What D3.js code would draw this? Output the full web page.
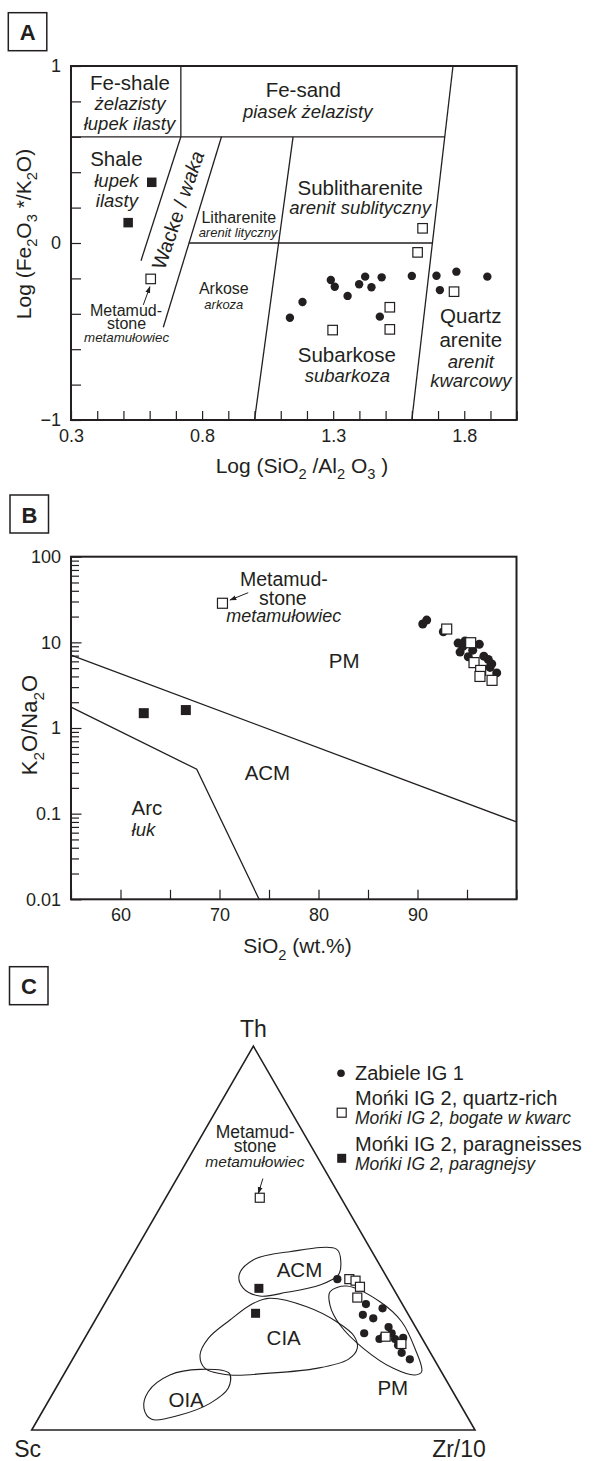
<!DOCTYPE html>
<html>
<head>
<meta charset="utf-8">
<script src="https://cdn.jsdelivr.net/npm/d3@7"></script>
<style>
body { margin: 0; background: #fff; }
text { font-family: 'Liberation Sans', Arial, sans-serif; fill: #231f20; white-space: pre; }
</style>
</head>
<body>
<script>
var width = 598, height = 1461, ink = '#231f20';

// ---------- A: log(SiO2/Al2O3) vs log(Fe2O3*/K2O) ----------
const aZabiele = [[1.135,-0.422],[1.183,-0.333],[1.291,-0.209],[1.306,-0.247],[1.355,-0.299],
  [1.399,-0.233],[1.422,-0.190],[1.446,-0.250],[1.485,-0.194],[1.478,-0.416],[1.600,-0.186],
  [1.694,-0.185],[1.707,-0.266],[1.770,-0.162],[1.888,-0.190]];
const aQuartzRich = [[1.641,0.083],[1.622,-0.053],[1.761,-0.275],[1.516,-0.363],[1.298,-0.492],[1.516,-0.488],[0.604,-0.203]];
const aParagneiss = [[0.608,0.343],[0.518,0.115]];
// field boundaries (Herron 1988)
const aBounds = [
  [[0.3,0.6],[1.726,0.6]],
  [[0.719,1],[0.719,0.6]],
  [[0.719,0.6],[0.567,-0.10]],
  [[0.874,0.6],[0.652,-0.476]],
  [[1.147,0.6],[1.0,-1]],
  [[1.757,1],[1.6,-1]],
  [[0.750,0],[1.678,0]]
];
const aXLabels = [0.3, 0.8, 1.3, 1.8];
const aYLabels = [-1, 0, 1];

// ---------- B: SiO2 vs K2O/Na2O ----------
const bZabiele = [[90.53,16.4],[90.93,18.2],[92.61,13.3],[94.80,10.4],[94.57,8.9],[95.58,8.1],
  [96.24,9.5],[95.13,6.8],[97.15,6.3],[97.32,5.1],[98.0,4.4],[94.1,9.8],[96.7,6.9],[97.5,5.6],[94.3,7.7]];
const bQuartzRich = [[92.95,14.3],[95.37,9.9],[95.71,5.8],[96.38,4.7],[96.31,4.0],[97.53,3.6],[70.3,28.6]];
const bParagneiss = [[62.35,1.49],[66.6,1.62]];
// Roser & Korsch (1986) boundaries
const bBounds = [
  [[55,7.1],[100,0.08]],
  [[55,1.75],[67.7,0.33],[74,0.01]]
];
const bXLabels = [60, 70, 80, 90];
const bYLabels = [0.01, 0.1, 1, 10, 100];

// ---------- C: Th - Sc - Zr/10 (fractions: th, sc, zr) ----------
const cZabiele = [[0.393,0.114,0.493],[0.328,0.082,0.590],[0.317,0.050,0.633],[0.300,0.103,0.597],
  [0.291,0.084,0.625],[0.268,0.061,0.671],[0.252,0.124,0.624],[0.237,0.097,0.666],[0.237,0.062,0.701],
  [0.240,0.042,0.718],[0.201,0.065,0.734],[0.184,0.055,0.761],[0.252,0.062,0.686],[0.221,0.063,0.716],
  [0.243,0.085,0.672]];
const cQuartzRich = [[0.393,0.087,0.520],[0.389,0.075,0.536],[0.373,0.073,0.554],[0.345,0.093,0.562],
  [0.243,0.080,0.677],[0.224,0.054,0.722],[0.605,0.183,0.212]];
const cParagneiss = [[0.369,0.303,0.328],[0.304,0.343,0.353]];
// tectonic fields (Bhatia & Crook 1986), outlines as [th, zr]
const cFields = {
  ACM: [[0.404,0.266],[0.443,0.278],[0.4645,0.350],[0.4706,0.453],[0.4385,0.478],[0.404,0.4897],
        [0.3777,0.4615],[0.3586,0.396],[0.349,0.340],[0.369,0.293]],
  CIA: [[0.343,0.366],[0.321,0.460],[0.282,0.547],[0.245,0.6046],[0.2127,0.628],[0.184,0.622],
        [0.1606,0.5626],[0.1476,0.456],[0.1433,0.3756],[0.1606,0.3106],[0.1954,0.282],[0.2388,0.279],
        [0.2865,0.304],[0.330,0.335]],
  OIA: [[0.0998,0.213],[0.1433,0.240],[0.158,0.3007],[0.1476,0.372],[0.1085,0.389],[0.0694,0.3675],
        [0.039,0.315],[0.0278,0.257],[0.0564,0.225]],
  PM:  [[0.360,0.493],[0.375,0.523],[0.334,0.6186],[0.282,0.6937],[0.2128,0.758],[0.152,0.8037],
        [0.1433,0.793],[0.1606,0.7354],[0.2128,0.6416],[0.2735,0.5588],[0.3256,0.510]]
};

const legendItems = [
  ['circle', 'Zabiele IG 1', null],
  ['open', 'Mońki IG 2, quartz-rich', 'Mońki IG 2, bogate w kwarc'],
  ['filled', 'Mońki IG 2, paragneisses', 'Mońki IG 2, paragnejsy']
];

// ---------- drawing ----------
var svg = d3.select('body').append('svg')
  .attr('width', width).attr('height', height);

svg.append('defs').append('marker')
  .attr('id', 'ah').attr('viewBox', '0 0 10 10')
  .attr('refX', 9).attr('refY', 5)
  .attr('markerWidth', 7).attr('markerHeight', 7)
  .attr('orient', 'auto')
  .append('path').attr('d', 'M0,1.5L10,5L0,8.5z').attr('fill', ink);

function label(g, x, y, str, size, italic, anchor) {
  return g.append('text')
    .attr('x', x).attr('y', y)
    .attr('font-size', size)
    .attr('font-style', italic ? 'italic' : null)
    .attr('text-anchor', anchor || 'middle')
    .text(str);
}

// text with subscripts: parts are strings or [sub]
function rich(g, parts, size) {
  var t = g.append('text').attr('font-size', size).attr('text-anchor', 'middle');
  var low = false;
  parts.forEach(p => {
    var sub = Array.isArray(p);
    var ts = t.append('tspan').text(sub ? p[0] : p);
    if (sub) { ts.attr('font-size', size * 0.7).attr('dy', size * 0.3); low = true; }
    else if (low) { ts.attr('dy', -size * 0.3); low = false; }
  });
  return t;
}

function panelTag(x, y, letter) {
  svg.append('rect').attr('x', x).attr('y', y).attr('width', 38.5).attr('height', 38)
    .attr('fill', 'none').attr('stroke', ink).attr('stroke-width', 1.5);
  svg.append('text').attr('x', x + 19.5).attr('y', y + 27.5)
    .attr('text-anchor', 'middle').attr('font-size', 22).attr('font-weight', 'bold')
    .text(letter);
}

function styleAxis(g) {
  g.attr('font-family', null).attr('font-size', 18);
  g.select('.domain').remove();
  g.selectAll('line').attr('stroke', ink).attr('stroke-width', 1.2);
  g.selectAll('text').attr('fill', ink);
}

function circles(g, data, px, r) {
  g.append('g').selectAll('circle').data(data).enter().append('circle')
    .attr('cx', d => px(d)[0]).attr('cy', d => px(d)[1])
    .attr('r', r).attr('fill', ink);
}

function squares(g, data, px, s, filled) {
  g.append('g').selectAll('rect').data(data).enter().append('rect')
    .attr('x', d => px(d)[0] - s / 2).attr('y', d => px(d)[1] - s / 2)
    .attr('width', s).attr('height', s)
    .attr('fill', filled ? ink : '#fff')
    .attr('stroke', ink).attr('stroke-width', filled ? 0 : 1.2);
}

// ===== Panel A =====
panelTag(8.3, 12.7, 'A');
const xA = d3.scaleLinear().domain([0.3, 2.0]).range([71, 516.7]);
const yA = d3.scaleLinear().domain([-1, 1]).range([420, 66]);
var gA = svg.append('g');
const near = (arr, d) => arr.some(v => Math.abs(v - d) < 1e-6);

gA.append('g').attr('transform', 'translate(0,420)')
  .call(d3.axisBottom(xA).tickValues(d3.range(0.3, 2.0001, 0.1))
    .tickSizeInner(-9).tickSizeOuter(0).tickPadding(9)
    .tickFormat(d => near(aXLabels, d) ? d3.format('.1f')(d) : ''))
  .call(styleAxis);
gA.append('g').attr('transform', 'translate(71,0)')
  .call(d3.axisLeft(yA).tickValues(d3.range(-1, 1.0001, 0.2))
    .tickSizeInner(-10).tickSizeOuter(0).tickPadding(10)
    .tickFormat(d => near(aYLabels, d) ? d3.format('d')(Math.round(d)) : ''))
  .call(styleAxis);

var lineA = d3.line().x(d => xA(d[0])).y(d => yA(d[1]));
gA.selectAll('path.bound').data(aBounds).enter().append('path')
  .attr('class', 'bound').attr('d', lineA)
  .attr('fill', 'none').attr('stroke', ink).attr('stroke-width', 1.3);
gA.append('rect').attr('x', xA(0.3)).attr('y', yA(1))
  .attr('width', xA(2.0) - xA(0.3)).attr('height', yA(-1) - yA(1))
  .attr('fill', 'none').attr('stroke', ink).attr('stroke-width', 2);

[
  [0.525, 0.864, 'Fe-shale', 20.5, 0], [0.525, 0.751, 'żelazisty', 18.5, 1], [0.523, 0.638, 'łupek ilasty', 18.5, 1],
  [1.186, 0.825, 'Fe-sand', 20.5, 0], [1.203, 0.706, 'piasek żelazisty', 18.5, 1],
  [0.473, 0.435, 'Shale', 20.5, 0], [0.473, 0.316, 'łupek', 18.5, 1], [0.475, 0.203, 'ilasty', 18.5, 1],
  [0.940, 0.115, 'Litharenite', 16, 0], [0.937, 0.036, 'arenit lityczny', 13, 1],
  [1.403, 0.272, 'Sublitharenite', 20.5, 0], [1.403, 0.163, 'arenit sublityczny', 18.5, 1],
  [0.883, -0.288, 'Arkose', 16, 0], [0.883, -0.375, 'arkoza', 13, 1],
  [0.510, -0.410, 'Metamud-', 16, 0], [0.512, -0.487, 'stone', 16, 0], [0.512, -0.560, 'metamułowiec', 13.3, 1],
  [1.352, -0.671, 'Subarkose', 20.5, 0], [1.354, -0.784, 'subarkoza', 18.5, 1],
  [1.825, -0.454, 'Quartz', 20.5, 0], [1.825, -0.586, 'arenite', 20.5, 0],
  [1.825, -0.705, 'arenit', 18.5, 1], [1.825, -0.812, 'kwarcowy', 18.5, 1]
].forEach(l => label(gA, xA(l[0]), yA(l[1]), l[2], l[3], l[4]));

var wk = gA.append('text').attr('font-size', 20).attr('text-anchor', 'middle')
  .attr('transform', 'translate(' + xA(0.708) + ',' + yA(0.186) + ') rotate(-71)')
  .attr('dy', '0.35em');
wk.append('tspan').text('Wacke / ');
wk.append('tspan').attr('font-style', 'italic').text('waka');

gA.append('line')
  .attr('x1', xA(0.5756)).attr('y1', yA(-0.35)).attr('x2', xA(0.601)).attr('y2', yA(-0.247))
  .attr('stroke', ink).attr('stroke-width', 1).attr('marker-end', 'url(#ah)');

var pA = d => [xA(d[0]), yA(d[1])];
circles(gA, aZabiele, pA, 4.2);
squares(gA, aQuartzRich, pA, 9.5, false);
squares(gA, aParagneiss, pA, 9.5, true);

rich(gA, ['Log (Fe', ['2'], 'O', ['3'], ' */K', ['2'], 'O)'], 21)
  .attr('transform', 'translate(31,234) rotate(-90)');
rich(gA, ['Log (SiO', ['2'], ' /Al', ['2'], ' O', ['3'], ' )'], 21)
  .attr('x', 302).attr('y', 473);

// ===== Panel B =====
panelTag(10, 495, 'B');
const xB = d3.scaleLinear().domain([55, 100]).range([71, 516.5]);
const yB = d3.scaleLog().domain([0.01, 100]).range([899.3, 556.7]);
var gB = svg.append('g');
const bMinor = [];
[-2, -1, 0, 1].forEach(e => d3.range(1, 10).forEach(k => bMinor.push(k * Math.pow(10, e))));
bMinor.push(100);
const isDecade = d => Math.abs(Math.log10(d) - Math.round(Math.log10(d))) < 1e-9;

gB.append('g').attr('transform', 'translate(0,899.3)')
  .call(d3.axisBottom(xB).tickValues(d3.range(55, 101, 5))
    .tickSizeInner(-9.5).tickSizeOuter(0).tickPadding(9)
    .tickFormat(d => bXLabels.includes(d) ? d : ''))
  .call(styleAxis);
gB.append('g').attr('transform', 'translate(71,0)')
  .call(d3.axisLeft(yB).tickValues(bMinor)
    .tickSizeInner(-10.5).tickSizeOuter(0).tickPadding(10)
    .tickFormat(d => isDecade(d) && bYLabels.some(v => Math.abs(v - d) < 1e-9) ? String(+d.toPrecision(1)) : ''))
  .call(styleAxis)
  .call(g => g.selectAll('.tick').filter(d => !isDecade(d)).select('line').attr('x2', 8));

var lineB = d3.line().x(d => xB(d[0])).y(d => yB(d[1]));
gB.selectAll('path.bound').data(bBounds).enter().append('path')
  .attr('class', 'bound').attr('d', lineB)
  .attr('fill', 'none').attr('stroke', ink).attr('stroke-width', 1.3);
gB.append('rect').attr('x', xB(55)).attr('y', yB(100))
  .attr('width', xB(100) - xB(55)).attr('height', yB(0.01) - yB(100))
  .attr('fill', 'none').attr('stroke', ink).attr('stroke-width', 2);

[
  [76.5, 45.5, 'Metamud-', 19.5, 0, 'middle'], [76.4, 27.0, 'stone', 19.5, 0, 'middle'],
  [76.5, 17.2, 'metamułowiec', 18, 1, 'middle'],
  [82.6, 4.98, 'PM', 20.5, 0, 'middle'], [74.84, 0.247, 'ACM', 20.5, 0, 'middle'],
  [61.12, 0.0964, 'Arc', 20.5, 0, 'start'], [61.12, 0.0548, 'łuk', 18.5, 1, 'start']
].forEach(l => label(gB, xB(l[0]), yB(l[1]), l[2], l[3], l[4], l[5]));

gB.append('line')
  .attr('x1', xB(72.9)).attr('y1', yB(38.0)).attr('x2', xB(71.06)).attr('y2', yB(31.2))
  .attr('stroke', ink).attr('stroke-width', 1).attr('marker-end', 'url(#ah)');

var pB = d => [xB(d[0]), yB(d[1])];
circles(gB, bZabiele, pB, 4.5);
squares(gB, bQuartzRich, pB, 10, false);
squares(gB, bParagneiss, pB, 10, true);

rich(gB, ['K', ['2'], 'O/Na', ['2'], 'O'], 22)
  .attr('transform', 'translate(37,725) rotate(-90)');
rich(gB, ['SiO', ['2'], ' (wt.%)'], 21)
  .attr('x', 297.5).attr('y', 953.3);

// ===== Panel C =====
panelTag(9.5, 966.7, 'C');
const tx = d3.scaleLinear().domain([0, 1]).range([31.7, 475]);
const ty = d3.scaleLinear().domain([0, 1]).range([1430, 1046.1]);
// th, sc, zr -> page coords
var tern = d => {
  var s = d[0] + d[1] + d[2];
  return [tx((d[2] + d[0] / 2) / s), ty(d[0] / s)];
};
var tern2 = d => tern([d[0], 1 - d[0] - d[1], d[1]]);
var gC = svg.append('g');

gC.append('path')
  .attr('d', d3.line()([[1, 0, 0], [0, 1, 0], [0, 0, 1]].map(tern)) + 'Z')
  .attr('fill', 'none').attr('stroke', ink).attr('stroke-width', 1.6)
  .attr('stroke-linejoin', 'miter');

var fieldLine = d3.line().curve(d3.curveCatmullRomClosed.alpha(0.5));
gC.selectAll('path.field').data(Object.values(cFields)).enter().append('path')
  .attr('class', 'field').attr('d', d => fieldLine(d.map(tern2)))
  .attr('fill', 'none').attr('stroke', ink).attr('stroke-width', 1.1);

[
  [0.398, 0.405, 'ACM', 20.5, 0], [0.221, 0.458, 'CIA', 20.5, 0],
  [0.0607, 0.318, 'OIA', 20.5, 0], [0.0912, 0.769, 'PM', 20.5, 0],
  [0.760, 0.124, 'Metamud-', 17.5, 0], [0.724, 0.142, 'stone', 17.5, 0],
  [0.685, 0.161, 'metamułowiec', 15.5, 1]
].forEach(l => { var p = tern2([l[0], l[1]]); label(gC, p[0], p[1], l[2], l[3], l[4]); });

var a1 = tern2([0.655, 0.194]), a2 = tern2([0.6166, 0.203]);
gC.append('line').attr('x1', a1[0]).attr('y1', a1[1]).attr('x2', a2[0]).attr('y2', a2[1])
  .attr('stroke', ink).attr('stroke-width', 1).attr('marker-end', 'url(#ah)');

circles(gC, cZabiele, tern, 4.1);
squares(gC, cQuartzRich, tern, 9, false);
squares(gC, cParagneiss, tern, 9, true);

var vTh = tern([1, 0, 0]), vSc = tern([0, 1, 0]), vZr = tern([0, 0, 1]);
label(gC, vTh[0], vTh[1] - 9.5, 'Th', 23, 0);
label(gC, vSc[0] - 4, vSc[1] + 27, 'Sc', 23, 0);
label(gC, vZr[0] - 16, vZr[1] + 27, 'Zr/10', 23, 0);

// legend
var gL = svg.append('g');
var rowY = [1080, 1105, 1150.7];
var markY = [1073.3, 1112.7, 1158.3];
legendItems.forEach((it, i) => {
  if (it[0] === 'circle') {
    gL.append('circle').attr('cx', 341).attr('cy', markY[i]).attr('r', 3.8).attr('fill', ink);
  } else {
    gL.append('rect').attr('x', 341.7 - 4.5).attr('y', markY[i] - 4.5).attr('width', 9).attr('height', 9)
      .attr('fill', it[0] === 'filled' ? ink : '#fff')
      .attr('stroke', ink).attr('stroke-width', it[0] === 'filled' ? 0 : 1.2);
  }
  label(gL, 355, rowY[i], it[1], 20, 0, 'start');
  if (it[2]) label(gL, 355, rowY[i] + 19.3, it[2], 17.5, 1, 'start');
});
</script>
</body>
</html>
